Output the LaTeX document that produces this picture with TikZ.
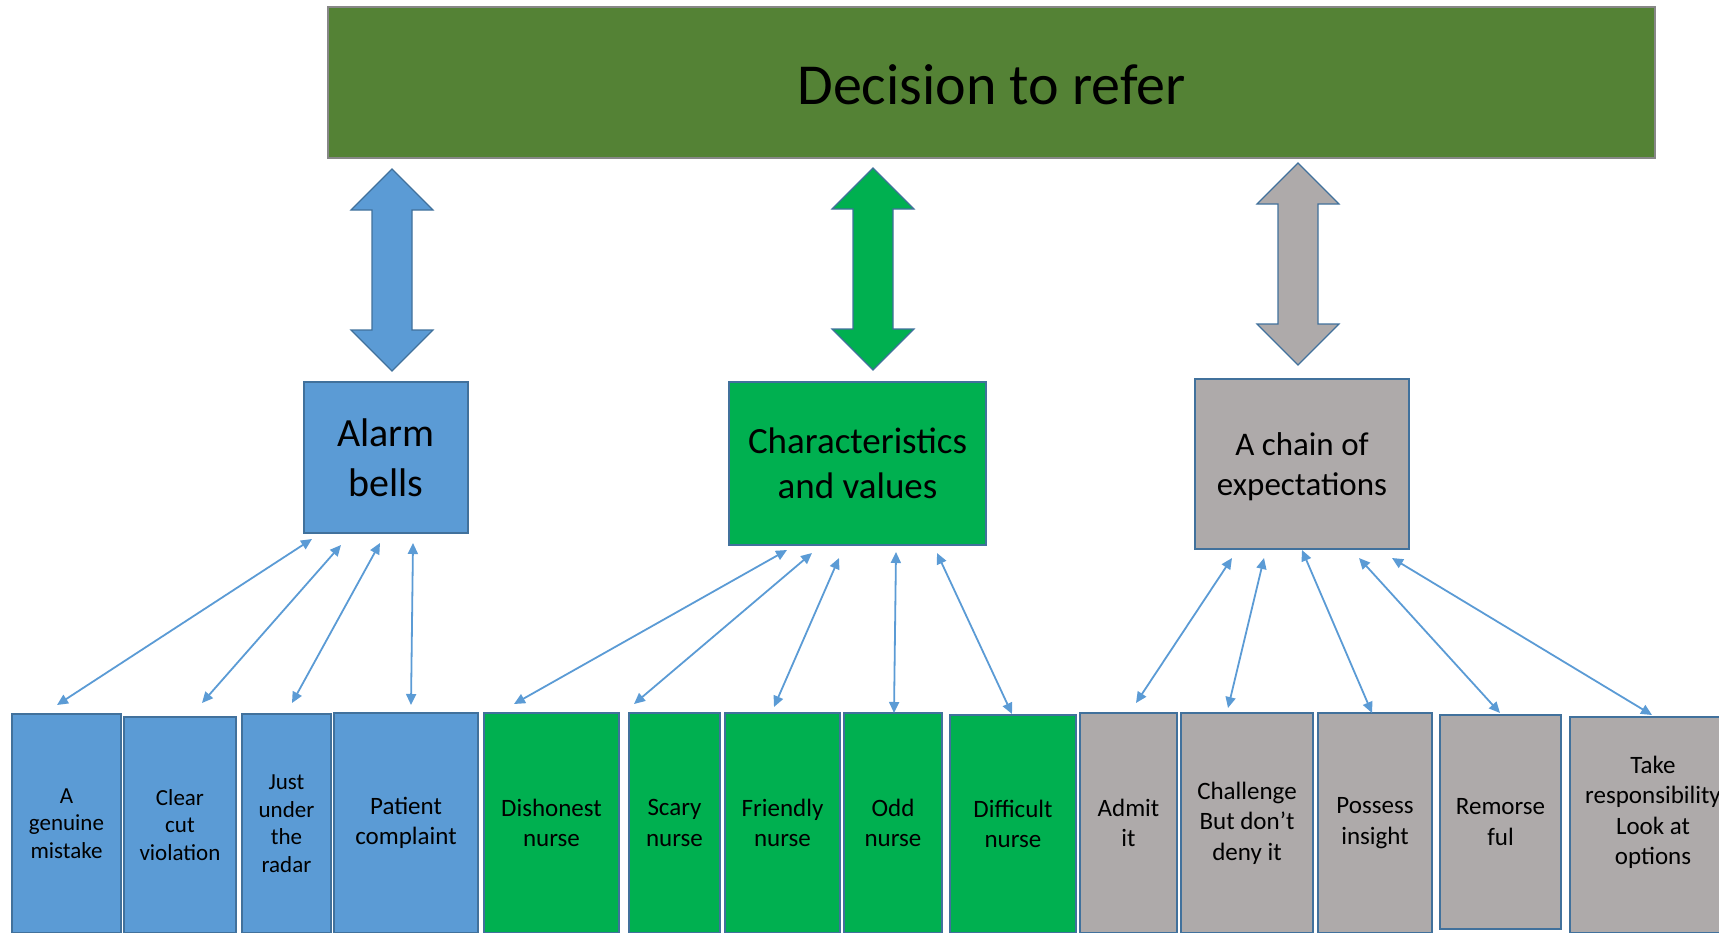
\documentclass[tikz,border=0pt]{standalone}
\usepackage{fontspec}
\setmainfont{Carlito}
\usetikzlibrary{arrows.meta}
\definecolor{bannergreen}{HTML}{548235}
\definecolor{bannerline}{HTML}{878787}
\definecolor{boxblue}{HTML}{5B9BD5}
\definecolor{boxgreen}{HTML}{00B050}
\definecolor{boxgray}{HTML}{AEAAAA}
\definecolor{edgeblue}{HTML}{41719C}
\definecolor{connblue}{HTML}{5B9BD5}
\newcommand{\dblblock}[4]{%
  \draw[bigarrow, fill=#4] (#1,#2) -- (#1+41,#2+41) -- (#1+20,#2+41) -- (#1+20,#3-41)
    -- (#1+41,#3-41) -- (#1,#3) -- (#1-41,#3-41) -- (#1-20,#3-41) -- (#1-20,#2+41)
    -- (#1-41,#2+41) -- cycle;}
\newcommand{\shifttext}[2]{\raisebox{#1}[\height][\depth]{\begin{tabular}{@{}c@{}}#2\end{tabular}}}
\begin{document}
\begin{tikzpicture}[x=1pt,y=-1pt,
  box/.style={draw=edgeblue, line width=1.5pt, inner sep=0pt, outer sep=0pt,
    align=center, text=black, rectangle, anchor=north west},
  leafs/.style={box, font=\fontsize{23}{27.5}\selectfont},
  leaf/.style={box, font=\fontsize{25}{30.5}\selectfont},
  bluebox/.style={fill=boxblue},
  greenbox/.style={fill=boxgreen},
  graybox/.style={fill=boxgray},
  conn/.style={draw=connblue, line width=1.8pt,
    {Triangle[length=11pt,width=10pt]}-{Triangle[length=11pt,width=10pt]}},
  bigarrow/.style={draw=edgeblue, line width=1.2pt, line join=miter}
]
\useasboundingbox (0,0) rectangle (1719,932);
\clip (0,0) rectangle (1719,932);

% banner
\node[box, draw=bannerline, fill=bannergreen, minimum width=1327pt, minimum height=151pt,
  font=\fontsize{58}{70}\selectfont] (banner) at (328,7) {\raisebox{-2pt}[\height][\depth]{Decision to refer}};

% categories
\node[box, bluebox, minimum width=164pt, minimum height=151pt,
  font=\fontsize{40}{50}\selectfont] (alarm) at (304,382) {Alarm\\bells};
\node[box, greenbox, minimum width=257pt, minimum height=163pt,
  font=\fontsize{37}{45}\selectfont] (char) at (729,382) {Characteristics\\and values};
\node[box, graybox, minimum width=214pt, minimum height=170pt,
  font=\fontsize{33}{40}\selectfont] (chain) at (1195,379) {\shifttext{-3pt}{A chain of\\expectations}};

% big double arrows
\dblblock{392}{169}{371}{boxblue}
\dblblock{873}{168}{370}{boxgreen}
\dblblock{1298}{163}{365}{boxgray}

% leaves
\node[leafs, bluebox, minimum width=109pt, minimum height=219pt] (genuine) at (12,714) {A\\genuine\\mistake};
\node[leafs, bluebox, minimum width=112pt, minimum height=216pt] (clear) at (124,717) {Clear\\cut\\violation};
\node[leafs, bluebox, minimum width=89pt, minimum height=219pt] (just) at (242,714) {Just\\under\\the\\radar};
\node[leaf, bluebox, minimum width=144pt, minimum height=220pt] (patient) at (334,713) {Patient\\complaint};

\node[leaf, greenbox, minimum width=135pt, minimum height=220pt] (dishonest) at (484,713) {Dishonest\\nurse};
\node[leaf, greenbox, minimum width=91pt, minimum height=220pt] (scary) at (629,713) {Scary\\nurse};
\node[leaf, greenbox, minimum width=115pt, minimum height=220pt] (friendly) at (725,713) {Friendly\\nurse};
\node[leaf, greenbox, minimum width=98pt, minimum height=220pt] (odd) at (844,713) {Odd\\nurse};
\node[leaf, greenbox, minimum width=126pt, minimum height=218pt] (difficult) at (950,715) {Difficult\\nurse};

\node[leaf, graybox, minimum width=97pt, minimum height=220pt] (admit) at (1080,713) {Admit\\it};
\node[leaf, graybox, minimum width=132pt, minimum height=220pt] (challenge) at (1181,713) {Challenge\\But don’t\\deny it};
\node[leaf, graybox, minimum width=114pt, minimum height=220pt] (possess) at (1318,713) {Possess\\insight};
\node[leaf, graybox, minimum width=121pt, minimum height=214pt] (remorse) at (1440,715) {Remorse\\ful};
\node[leaf, graybox, minimum width=166pt, minimum height=216pt] (take) at (1570,717) {\shifttext{12pt}{Take\\responsibility\\Look at\\options}};

% connectors: alarm bells
\draw[conn] ([shift={(8,6)}]alarm.south west) -- ([shift={(45,-9)}]genuine.north west);
\draw[conn] ([shift={(37,12)}]alarm.south west) -- ([shift={(78,-14)}]clear.north west);
\draw[conn] ([shift={(76,10)}]alarm.south west) -- ([shift={(50,-11)}]just.north west);
\draw[conn] ([shift={(109,10)}]alarm.south west) -- ([shift={(77,-8)}]patient.north west);

% connectors: characteristics
\draw[conn] ([shift={(58,5)}]char.south west) -- ([shift={(30,-9)}]dishonest.north west);
\draw[conn] ([shift={(83,8)}]char.south west) -- ([shift={(5,-9)}]scary.north west);
\draw[conn] ([shift={(110,13)}]char.south west) -- ([shift={(49,-6)}]friendly.north west);
\draw[conn] ([shift={(167,7)}]char.south west) -- ([shift={(50,0)}]odd.north west);
\draw[conn] ([shift={(208,8)}]char.south west) -- ([shift={(62,-1)}]difficult.north west);

% connectors: chain
\draw[conn] ([shift={(37,9)}]chain.south west) -- ([shift={(56,-10)}]admit.north west);
\draw[conn] ([shift={(69,9)}]chain.south west) -- ([shift={(47,-5)}]challenge.north west);
\draw[conn] ([shift={(107,1)}]chain.south west) -- ([shift={(54,0)}]possess.north west);
\draw[conn] ([shift={(164,9)}]chain.south west) -- ([shift={(60,-2)}]remorse.north west);
\draw[conn] ([shift={(197,9)}]chain.south west) -- ([shift={(82,-2)}]take.north west);
\end{tikzpicture}
\end{document}
